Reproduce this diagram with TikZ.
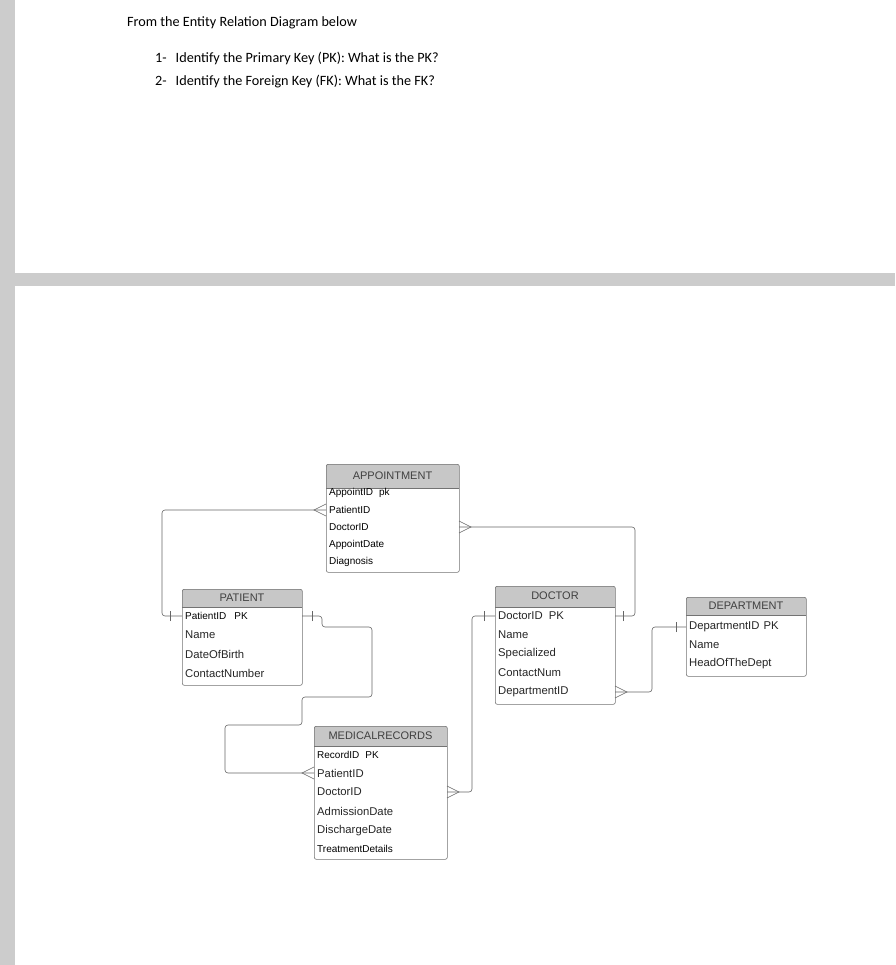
\documentclass[tikz,border=0pt]{standalone}
\usepackage{fontspec}
\setmainfont{Liberation Sans}
\newfontfamily\calfont{Carlito}
\begin{document}
\begin{tikzpicture}[x=1pt,y=-1pt,
  tbl/.style={draw=black!55,rounded corners=2pt,line width=0.6pt},
  hdr/.style={fill=black!22},
  hdrtxt/.style={font=\fontsize{11}{12}\selectfont,text=black!75,anchor=center},
  row/.style={font=\fontsize{11.3}{12}\selectfont,text=black!85,anchor=west,inner sep=0pt},
  rowsm/.style={font=\fontsize{10}{11}\selectfont,anchor=west,inner sep=0pt},
  conn/.style={draw=black!60,line width=0.6pt,rounded corners=3pt},
  ermark/.style={draw=black!60,line width=0.6pt}]
\useasboundingbox (0,0) rectangle (895,965);
\fill[white] (0,0) rectangle (895,965);
\fill[black!20] (0,0) rectangle (15,965);
\fill[black!20] (15,273) rectangle (895,286);
% header text
\node[anchor=base west,inner sep=0pt,font=\calfont\fontsize{14.2}{16}\selectfont] (t0) at (127,27) {From the Entity Relation Diagram below};
\node[anchor=base west,inner sep=0pt,font=\calfont\fontsize{14.2}{16}\selectfont] (t1) at (155,63) {1-\hspace{9pt}Identify the Primary Key (PK): What is the PK?};
\node[anchor=base west,inner sep=0pt,font=\calfont\fontsize{14.2}{16}\selectfont] (t2) at (155,86) {2-\hspace{9pt}Identify the Foreign Key (FK): What is the FK?};
% helper macro for tables
\newcommand{\erbox}[6]{% name, x1,y1,x2,y2, header bottom
  \fill[hdr,rounded corners=2pt] (#2,#3) rectangle (#4,#6);
  \fill[hdr] (#2,#6-4) rectangle (#4,#6);
  \draw[black!55,line width=0.6pt] (#2,#6) -- (#4,#6);
  \node[tbl,minimum width=#4-#2,minimum height=#5-#3,inner sep=0pt,anchor=north west] (#1) at (#2,#3) {};
}
% APPOINTMENT
\erbox{appt}{326}{464}{459}{572}{488}
\node[hdrtxt] (apptH) at (392.5,476) {APPOINTMENT};
\node[rowsm] (a1) at (329,493) {AppointID\hspace{6pt}pk};
\node[rowsm] (a2) at (329,510) {PatientID};
\node[rowsm] (a3) at (329,527) {DoctorID};
\node[rowsm] (a4) at (329,545) {AppointDate};
\node[rowsm] (a5) at (329,562) {Diagnosis};
% PATIENT
\erbox{pat}{182}{589}{302}{685}{607}
\node[hdrtxt] (patH) at (242,598) {PATIENT};
\node[rowsm] (p1) at (185,616) {PatientID\hspace{8pt}PK};
\node[row] (p2) at (185,635) {Name};
\node[row] (p3) at (185,654) {DateOfBirth};
\node[row] (p4) at (185,673) {ContactNumber};
% DOCTOR
\erbox{doc}{495}{586}{615}{704}{607}
\node[hdrtxt] (docH) at (555,596) {DOCTOR};
\node[row] (d1) at (498,616) {DoctorID\hspace{6pt}PK};
\node[row] (d2) at (498,635) {Name};
\node[row] (d3) at (498,654) {Specialized};
\node[row] (d4) at (498,673) {ContactNum};
\node[row] (d5) at (498,692) {DepartmentID};
% DEPARTMENT
\erbox{dep}{686}{597}{806}{676}{615}
\node[hdrtxt] (depH) at (746,606) {DEPARTMENT};
\node[row] (e1) at (689,627) {DepartmentID\hspace{4pt}PK};
\node[row] (e2) at (689,645) {Name};
\node[row] (e3) at (689,664) {HeadOfTheDept};
% MEDICALRECORDS
\erbox{med}{314}{726}{447}{859}{746}
\node[hdrtxt] (medH) at (380.5,736) {MEDICALRECORDS};
\node[rowsm] (m1) at (317,755) {RecordID\hspace{6pt}PK};
\node[row] (m2) at (317,773) {PatientID};
\node[row] (m3) at (317,792) {DoctorID};
\node[row] (m4) at (317,811) {AdmissionDate};
\node[row] (m5) at (317,831) {DischargeDate};
\node[rowsm] (m6) at (317,849) {TreatmentDetails};
% attachment coordinates
\coordinate (aP) at (326,510); \coordinate (aD) at (459,527);
\coordinate (pL) at (182,616); \coordinate (pR) at (302,616);
\coordinate (dL) at (495,616); \coordinate (dR) at (615,616); \coordinate (dD) at (615,692);
\coordinate (eL) at (686,627);
\coordinate (mP) at (314,773); \coordinate (mD) at (447,792);
% connectors
\draw[conn] (aP) -- (162,510) -- (162,616) -- (pL);
\draw[conn] (aD) -- (635,527) -- (635,616) -- (dR);
\draw[conn] (pR) -- (322,616) -- (322,627) -- (372,627) -- (372,697) -- (302,697) -- (302,725) -- (225,725) -- (225,773) -- (mP);
\draw[conn] (dL) -- (472,616) -- (472,792) -- (mD);
\draw[conn] (eL) -- (652,627) -- (652,692) -- (dD);
% crow's feet (spread at the box edge)
\draw[ermark] ([yshift=-6pt]aP) -- ([xshift=-12pt]aP) -- ([yshift=6pt]aP);
\draw[ermark] ([yshift=-6pt]aD) -- ([xshift=12pt]aD) -- ([yshift=6pt]aD);
\draw[ermark] ([yshift=-6pt]mP) -- ([xshift=-12pt]mP) -- ([yshift=6pt]mP);
\draw[ermark] ([yshift=-6pt]mD) -- ([xshift=12pt]mD) -- ([yshift=6pt]mD);
\draw[ermark] ([yshift=-6pt]dD) -- ([xshift=12pt]dD) -- ([yshift=6pt]dD);
% bars
\draw[ermark] ([xshift=-12pt,yshift=-5pt]pL) -- ([xshift=-12pt,yshift=5pt]pL);
\draw[ermark] ([xshift=10pt,yshift=-5pt]pR) -- ([xshift=10pt,yshift=5pt]pR);
\draw[ermark] ([xshift=-11pt,yshift=-5pt]dL) -- ([xshift=-11pt,yshift=5pt]dL);
\draw[ermark] ([xshift=8pt,yshift=-5pt]dR) -- ([xshift=8pt,yshift=5pt]dR);
\draw[ermark] ([xshift=-10pt,yshift=-5pt]eL) -- ([xshift=-10pt,yshift=5pt]eL);
\end{tikzpicture}
\end{document}
